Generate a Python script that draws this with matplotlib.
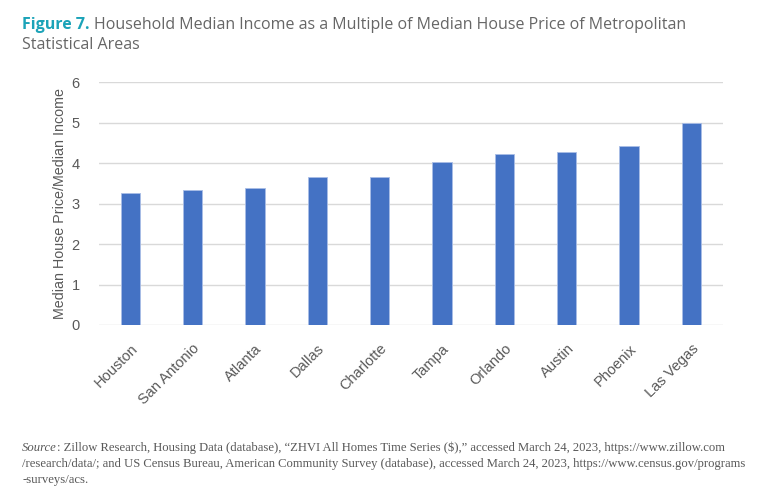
import numpy as np
import matplotlib
matplotlib.use("Agg")
import matplotlib.pyplot as plt

# Data
cities = ["Houston", "San Antonio", "Atlanta", "Dallas", "Charlotte",
          "Tampa", "Orlando", "Austin", "Phoenix", "Las Vegas"]
ratios = [3.26, 3.34, 3.38, 3.65, 3.67, 4.04, 4.24, 4.27, 4.44, 4.99]
y_ticks = [0, 1, 2, 3, 4, 5, 6]

bar_color = "#4472c4"
grey = "#595959"
teal = "#1ba3b8"

fig = plt.figure(figsize=(7.68, 5.03), dpi=100)
ax = fig.add_axes([0.129, 0.354, 0.812, 0.482])

x = np.arange(len(cities))
ax.bar(x, ratios, width=0.31, color=bar_color, edgecolor="#a9bde6", linewidth=0.6, zorder=3)

ax.set_xlim(-0.5, len(cities) - 0.5)
ax.set_ylim(0, 6)
ax.set_yticks(y_ticks)
ax.set_yticklabels([str(t) for t in y_ticks], fontsize=10.5, color=grey, family="Liberation Sans")
ax.set_xticks(x)
ax.set_xticklabels(cities, rotation=45, ha="right", rotation_mode="anchor",
                   fontsize=10.5, color=grey, family="Liberation Sans")
ax.tick_params(axis="both", length=0)
ax.tick_params(axis="y", pad=14)
ax.tick_params(axis="x", pad=12)
ax.grid(axis="y", color="#d9d9d9", linewidth=1.0, zorder=0)
for s in ["top", "right", "left", "bottom"]:
    ax.spines[s].set_visible(False)
ax.set_ylabel("Median House Price/Median Income", fontsize=10.3, color=grey,
              family="Liberation Sans", labelpad=3)

# title in two pieces: teal bold lead-in, grey remainder
t1 = fig.text(0.029, 0.942, "Figure 7.", fontsize=11.5, color=teal, fontweight="bold",
              family="Open Sans", va="baseline")
fig.canvas.draw()
bb = t1.get_window_extent()
fig.text(bb.x1 / fig.dpi / fig.get_figwidth() + 0.005, 0.942,
         "Household Median Income as a Multiple of Median House Price of Metropolitan",
         fontsize=11.5, color="#666666", family="Open Sans", va="baseline")
fig.text(0.029, 0.902, "Statistical Areas", fontsize=11.5, color="#666666",
         family="Open Sans", va="baseline")

source_lines = [
    "Zillow Research, Housing Data (database), \u201cZHVI All Homes Time Series ($),\u201d accessed March 24, 2023, https://www.zillow.com",
    "/research/data/; and US Census Bureau, American Community Survey (database), accessed March 24, 2023, https://www.census.gov/programs",
    "-surveys/acs.",
]
src_size = 9.1
s0 = fig.text(0.029, 0.103, "Source", fontsize=src_size, color=grey, family="Liberation Serif",
              style="italic", va="baseline")
fig.canvas.draw()
sb = s0.get_window_extent()
fig.text(sb.x1 / fig.dpi / fig.get_figwidth(), 0.103, ": " + source_lines[0], fontsize=src_size,
         color=grey, family="Liberation Serif", va="baseline")
fig.text(0.029, 0.071, source_lines[1], fontsize=src_size, color=grey,
         family="Liberation Serif", va="baseline")
fig.text(0.029, 0.039, source_lines[2], fontsize=src_size, color=grey,
         family="Liberation Serif", va="baseline")

fig.savefig("out.png", dpi=100)
